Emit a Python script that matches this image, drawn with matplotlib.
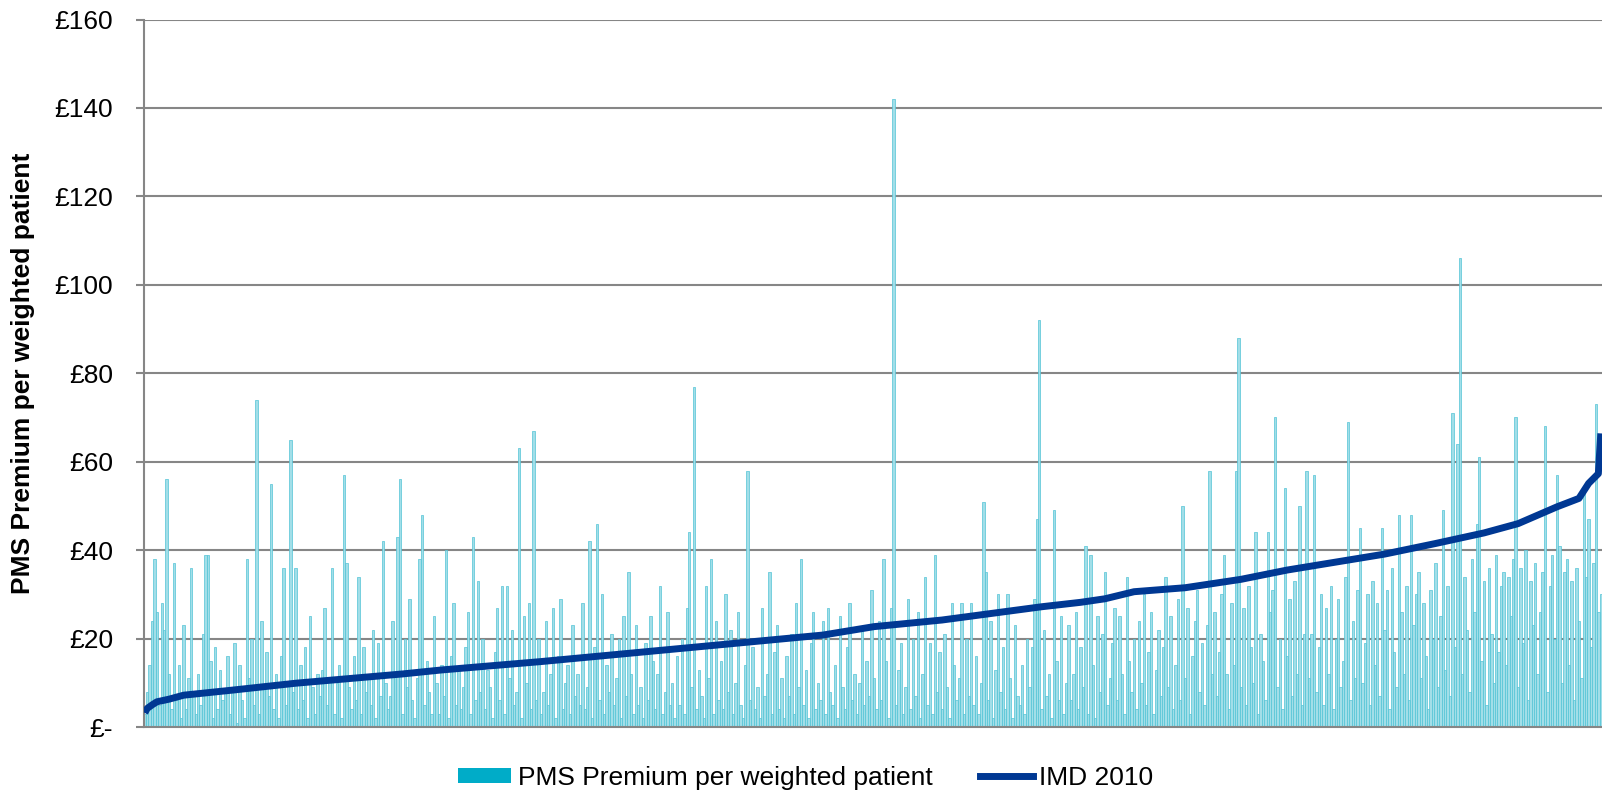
import numpy as np
import matplotlib.pyplot as plt
from matplotlib.patches import Patch
from matplotlib.lines import Line2D

plt.rcParams['font.family'] = ['Liberation Sans', 'DejaVu Sans']

# PMS premium per weighted patient (£), one bar per practice, ordered by IMD 2010
pms_premium = [
    3, 8, 14, 24, 38, 26, 5, 28, 22, 56, 12, 4, 37, 6, 14, 2, 23, 4, 11, 36,
    7, 3, 12, 5, 21, 39, 39, 15, 2, 18, 4, 13, 6, 8, 16, 3, 9, 19, 1, 14,
    6, 2, 38, 11, 20, 5, 74, 3, 24, 9, 17, 7, 55, 4, 12, 2, 16, 36, 5, 10,
    65, 8, 36, 4, 14, 6, 18, 2, 25, 9, 3, 12, 7, 13, 27, 5, 11, 36, 3, 10,
    14, 2, 57, 37, 9, 4, 16, 6, 34, 3, 18, 8, 11, 5, 22, 2, 19, 7, 42, 10,
    4, 7, 24, 12, 43, 56, 3, 20, 9, 29, 6, 2, 11, 38, 48, 5, 15, 8, 3, 25,
    10, 3, 14, 7, 40, 2, 16, 28, 5, 13, 4, 9, 18, 26, 3, 43, 6, 33, 8, 20,
    4, 13, 9, 2, 17, 27, 6, 32, 3, 32, 11, 22, 5, 8, 63, 2, 25, 10, 28, 4,
    67, 6, 20, 3, 8, 24, 5, 12, 27, 2, 16, 29, 4, 10, 14, 3, 23, 7, 12, 5,
    28, 4, 9, 42, 2, 18, 46, 6, 30, 3, 14, 8, 21, 5, 11, 20, 2, 25, 7, 35,
    12, 3, 23, 5, 9, 2, 19, 6, 25, 15, 4, 12, 32, 3, 8, 26, 5, 10, 2, 16,
    5, 20, 3, 27, 44, 9, 77, 4, 13, 7, 2, 32, 11, 38, 3, 24, 6, 15, 4, 30,
    8, 22, 3, 10, 26, 5, 2, 14, 58, 6, 18, 4, 9, 2, 27, 7, 12, 35, 3, 17,
    23, 4, 11, 2, 16, 7, 21, 3, 28, 9, 38, 5, 13, 2, 19, 26, 4, 10, 6, 24,
    3, 27, 8, 5, 14, 2, 25, 9, 4, 18, 28, 6, 12, 3, 10, 22, 5, 15, 7, 31,
    11, 4, 24, 6, 38, 15, 2, 27, 142, 5, 13, 19, 3, 9, 29, 4, 20, 7, 26, 2,
    12, 34, 5, 19, 3, 39, 8, 17, 4, 21, 9, 2, 28, 14, 6, 11, 28, 3, 20, 7,
    28, 5, 16, 3, 10, 51, 35, 6, 24, 2, 13, 30, 8, 18, 4, 30, 11, 2, 23, 7,
    5, 14, 3, 20, 9, 18, 29, 47, 92, 4, 22, 7, 12, 2, 49, 15, 6, 25, 3, 10,
    23, 6, 12, 26, 4, 18, 9, 41, 3, 39, 14, 2, 25, 8, 21, 35, 5, 11, 19, 27,
    6, 25, 12, 3, 34, 15, 8, 20, 4, 24, 10, 30, 5, 17, 26, 3, 13, 22, 7, 18,
    34, 9, 25, 4, 14, 29, 6, 50, 11, 27, 3, 16, 24, 31, 8, 19, 5, 23, 58, 12,
    26, 7, 17, 30, 39, 12, 4, 28, 14, 58, 88, 9, 27, 5, 32, 18, 10, 44, 3, 21,
    15, 6, 44, 26, 31, 70, 9, 20, 4, 54, 16, 29, 7, 33, 12, 50, 5, 21, 58, 11,
    21, 57, 8, 18, 30, 5, 27, 12, 32, 4, 20, 29, 9, 15, 34, 69, 6, 24, 11, 31,
    45, 10, 19, 30, 5, 33, 14, 28, 7, 45, 22, 31, 4, 36, 17, 9, 48, 26, 12, 32,
    6, 48, 23, 30, 35, 11, 28, 16, 4, 31, 20, 37, 9, 25, 49, 13, 32, 7, 71, 18,
    64, 106, 12, 34, 22, 8, 38, 26, 46, 61, 15, 33, 5, 36, 21, 10, 39, 17, 32, 35,
    14, 34, 25, 38, 70, 9, 36, 19, 40, 6, 33, 23, 37, 12, 26, 35, 68, 8, 32, 39,
    20, 57, 41, 10, 35, 38, 14, 33, 6, 36, 24, 11, 54, 34, 47, 18, 37, 73, 26, 30,
]

# IMD 2010 score read at practice positions along the curve
imd_rank = [0, 1, 3, 5, 10, 16, 37, 62, 85, 106, 122, 163, 225, 279, 300, 328,
            369, 385, 395, 407, 428, 451, 470, 510, 531, 551, 565, 581, 590, 594, 598, 599]
imd_value = [3.2, 4.2, 5.0, 5.7, 6.3, 7.2, 8.4, 9.9, 11.0, 12.0, 12.9, 14.8, 18.0, 20.8,
             22.7, 24.2, 27.2, 28.2, 29.0, 30.6, 31.5, 33.4, 35.5, 39.1, 41.5, 43.9, 46.0,
             49.8, 51.7, 55.1, 57.3, 66.4]

y_ticks = [0, 20, 40, 60, 80, 100, 120, 140, 160]
y_labels = ['£-', '£20', '£40', '£60', '£80', '£100', '£120', '£140', '£160']

grey = '#868686'

fig = plt.figure(figsize=(16.02, 7.93), dpi=100)
ax = fig.add_axes([0.0896, 0.0832, 0.9104, 0.8922])

x = np.arange(len(pms_premium))
ax.bar(x, pms_premium, width=1.0, color='#A2DEE8', edgecolor='#52C3D6',
       linewidth=0.5, zorder=2)
ax.plot(imd_rank, imd_value, color='#003893', linewidth=5, solid_capstyle='butt', zorder=3)

ax.set_xlim(-0.5, len(pms_premium) - 0.5)
ax.set_ylim(0, 160)
ax.set_yticks(y_ticks)
ax.set_yticklabels(y_labels)
ax.set_xticks([])
ax.yaxis.grid(True, color=grey, linewidth=1.5, zorder=0)
ax.set_axisbelow(True)
ax.tick_params(axis='y', length=6, width=1.5, color=grey, pad=16, labelsize=19)

for side in ['top', 'right']:
    ax.spines[side].set_visible(False)
for side in ['left', 'bottom']:
    ax.spines[side].set_color(grey)
    ax.spines[side].set_linewidth(1.5)

fig.text(23 / 1602, 0.5296, 'PMS Premium per weighted patient', fontsize=19,
         fontweight='bold', rotation=90, ha='center', va='center')

handles = [Patch(facecolor='#00ACC8', edgecolor='none'),
           Line2D([0], [0], color='#003893', linewidth=5)]
fig.legend(handles, ['PMS Premium per weighted patient', 'IMD 2010'],
           loc='center', bbox_to_anchor=(0.503, 0.019), ncol=2, frameon=False,
           fontsize=19, handlelength=2.0, handleheight=0.5, handletextpad=0.25,
           columnspacing=1.8)

fig.savefig('out.png', dpi=100)
